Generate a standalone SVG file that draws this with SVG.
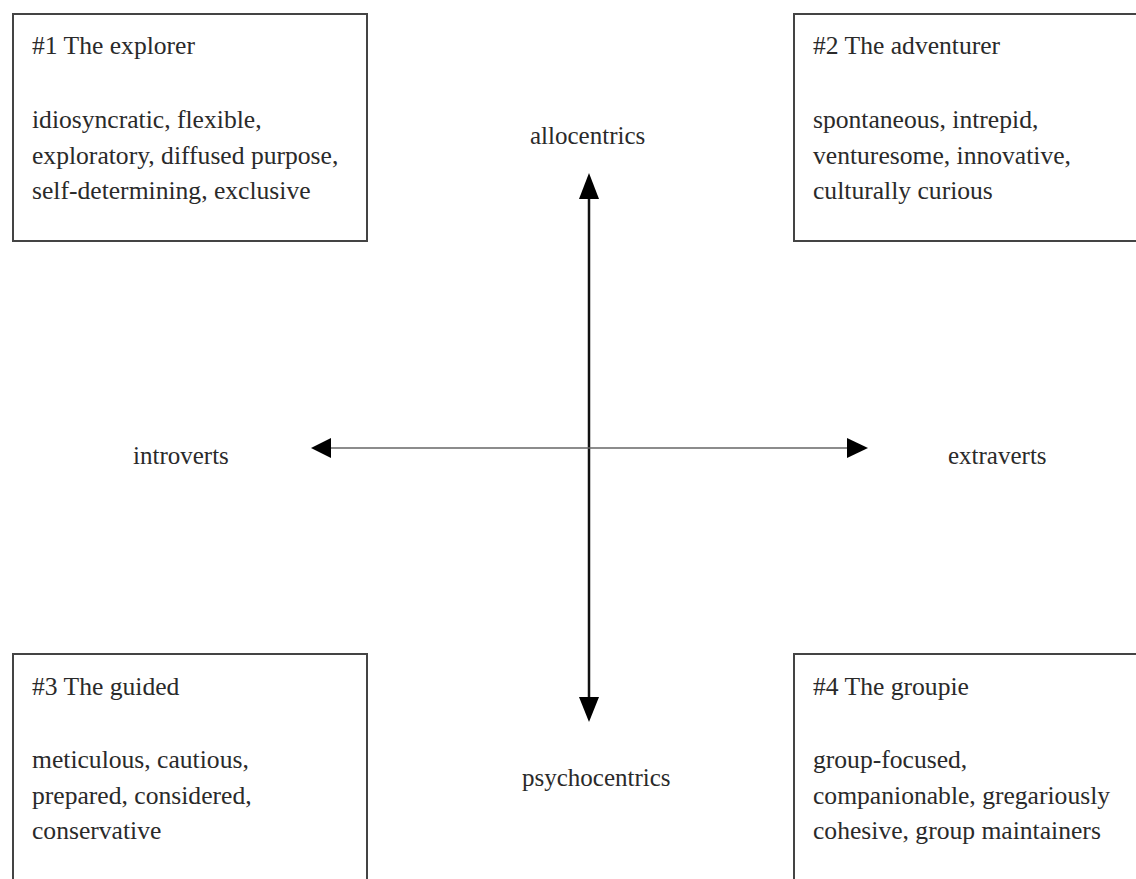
<svg xmlns="http://www.w3.org/2000/svg" width="1136" height="879" viewBox="0 0 1136 879">
<style>
.box{fill:#fff;stroke:#444;stroke-width:2}
.t{font-family:"Liberation Serif","Times New Roman",serif;font-size:25.6px;fill:#2a2a2a}
.lbl{font-family:"Liberation Serif","Times New Roman",serif;font-size:25px;fill:#2a2a2a}
</style>
<rect width="1136" height="879" fill="#fff"/>
<g id="connectors">
<line x1="589" y1="196" x2="589" y2="700" stroke="#111" stroke-width="2.5"/>
<polygon points="589,173 579,199 599,199" fill="#000"/>
<polygon points="589,722 579,697 599,697" fill="#000"/>
<line x1="328" y1="448" x2="850" y2="448" stroke="#666" stroke-width="1.6"/>
<polygon points="311,448 331,438 331,458" fill="#000"/>
<polygon points="868,448 847,438 847,458" fill="#000"/>
</g>
<g id="n1">
<rect class="box" x="13" y="14" width="354" height="227"/>
<text class="t" x="32" y="54">#1 The explorer</text>
<text class="t" x="32" y="128">idiosyncratic, flexible,</text>
<text class="t" x="32" y="163.5">exploratory, diffused purpose,</text>
<text class="t" x="32" y="199">self-determining, exclusive</text>
</g>
<g id="n2">
<rect class="box" x="794" y="14" width="360" height="227"/>
<text class="t" x="813" y="54">#2 The adventurer</text>
<text class="t" x="813" y="128">spontaneous, intrepid,</text>
<text class="t" x="813" y="163.5">venturesome, innovative,</text>
<text class="t" x="813" y="199">culturally curious</text>
</g>
<g id="n3">
<rect class="box" x="13" y="654" width="354" height="240"/>
<text class="t" x="32" y="695">#3 The guided</text>
<text class="t" x="32" y="768">meticulous, cautious,</text>
<text class="t" x="32" y="803.5">prepared, considered,</text>
<text class="t" x="32" y="839">conservative</text>
</g>
<g id="n4">
<rect class="box" x="794" y="654" width="360" height="240"/>
<text class="t" x="813" y="695">#4 The groupie</text>
<text class="t" x="813" y="768">group-focused,</text>
<text class="t" x="813" y="803.5">companionable, gregariously</text>
<text class="t" x="813" y="839">cohesive, group maintainers</text>
</g>
<g id="labels">
<text class="lbl" x="530" y="144">allocentrics</text>
<text class="lbl" x="133" y="464">introverts</text>
<text class="lbl" x="948" y="464">extraverts</text>
<text class="lbl" x="522" y="786">psychocentrics</text>
</g>
</svg>
